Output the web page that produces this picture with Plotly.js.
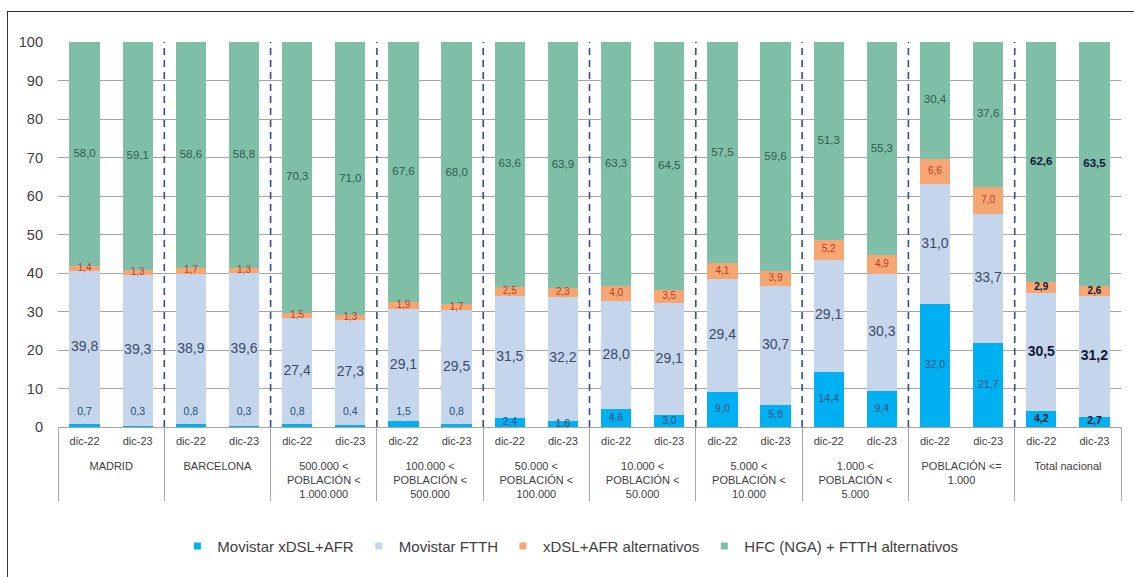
<!DOCTYPE html>
<html>
<head>
<meta charset="utf-8">
<script src="https://cdn.plot.ly/plotly-3.0.1.min.js"></script>
<style>
  html, body { margin: 0; padding: 0; background: #fff; }
  #wrap { position: relative; width: 1134px; height: 577px; overflow: hidden; }
  #chart { position: absolute; left: 0; top: 0; width: 1134px; height: 577px; }
  #frame { position: absolute; left: 7px; top: 11px; width: 1140px; height: 600px;
           border-left: 1.5px solid #333; border-top: 1.5px solid #333; pointer-events: none; }
</style>
</head>
<body>
<div id="wrap"><div id="chart"></div><div id="frame"></div></div>
<script>
// ---- data ----
const groups = [
  'MADRID',
  'BARCELONA',
  '500.000 &lt;<br>POBLACIÓN &lt;<br>1.000.000',
  '100.000 &lt;<br>POBLACIÓN &lt;<br>500.000',
  '50.000 &lt;<br>POBLACIÓN &lt;<br>100.000',
  '10.000 &lt;<br>POBLACIÓN &lt;<br>50.000',
  '5.000 &lt;<br>POBLACIÓN &lt;<br>10.000',
  '1.000 &lt;<br>POBLACIÓN &lt;<br>5.000',
  'POBLACIÓN &lt;=<br>1.000',
  'Total nacional'
];
const periods = ['dic-22', 'dic-23'];

const movistarXdsl = [0.7, 0.3, 0.8, 0.3, 0.8, 0.4, 1.5, 0.8, 2.4, 1.6, 4.6, 3.0, 9.0, 5.8, 14.4, 9.4, 32.0, 21.7, 4.2, 2.7];
const movistarFtth = [39.8, 39.3, 38.9, 39.6, 27.4, 27.3, 29.1, 29.5, 31.5, 32.2, 28.0, 29.1, 29.4, 30.7, 29.1, 30.3, 31.0, 33.7, 30.5, 31.2];
const xdslAlt      = [1.4, 1.3, 1.7, 1.3, 1.5, 1.3, 1.9, 1.7, 2.5, 2.3, 4.0, 3.5, 4.1, 3.9, 5.2, 4.9, 6.6, 7.0, 2.9, 2.6];
const hfcFtthAlt   = [58.0, 59.1, 58.6, 58.8, 70.3, 71.0, 67.6, 68.0, 63.6, 63.9, 63.3, 64.5, 57.5, 59.6, 51.3, 55.3, 30.4, 37.6, 62.6, 63.5];

const seriesNames = ['Movistar xDSL+AFR', 'Movistar FTTH', 'xDSL+AFR alternativos', 'HFC (NGA) + FTTH alternativos'];
const yTicks = [0, 10, 20, 30, 40, 50, 60, 70, 80, 90, 100];

// ---- build ----
const xOuter = [], xInner = [];
groups.forEach(g => periods.forEach(p => { xOuter.push('<br>' + g); xInner.push(p); }));
const X = [xOuter, xInner];

const colors = ['#00b0f0', '#c5d6ec', '#f5a673', '#7fbfa8'];
const textColors = ['#1f4e79', '#3b4a68', '#b5412a', '#2b5e4e'];
const textSizes = [10.5, 14, 10, 11.5];
const allSeries = [movistarXdsl, movistarFtth, xdslAlt, hfcFtthAlt];

const fmt = v => v.toFixed(1).replace('.', ',');
const isTotal = i => xOuter[i].indexOf('Total nacional') >= 0;

const traces = allSeries.map((vals, s) => ({
  type: 'bar', name: seriesNames[s], x: X, y: vals, showlegend: false,
  marker: { color: colors[s], line: { width: 0 } },
  hoverinfo: 'skip'
}));

// label positions (middle of each stacked segment)
allSeries.forEach((vals, s) => {
  const ys = vals.map((v, i) => {
    let base = 0;
    for (let k = 0; k < s; k++) base += allSeries[k][i];
    if (s === 0 && v <= 1.5) return 3.8;
    return base + v / 2;
  });
  traces.push({
    type: 'scatter', mode: 'text', x: X, y: ys, showlegend: false, hoverinfo: 'skip',
    text: vals.map((v, i) => isTotal(i) ? '<b>' + fmt(v) + '</b>' : fmt(v)),
    textposition: 'middle center',
    textfont: {
      family: 'Liberation Sans, Arial, sans-serif',
      size: textSizes[s],
      color: vals.map((v, i) => isTotal(i) ? '#0d1a33' : textColors[s])
    }
  });
});

// legend entries with small square markers
seriesNames.forEach((n, s) => {
  traces.push({
    type: 'scatter', mode: 'markers', name: n, x: [null], y: [null],
    marker: { symbol: 'square', size: 7, color: colors[s] },
    showlegend: true, hoverinfo: 'skip'
  });
});

const nBars = xOuter.length;
const shapes = [];
for (let g = 1; g < groups.length; g++) {
  const xf = (g * periods.length) / nBars;
  shapes.push({ type: 'line', xref: 'paper', yref: 'y', x0: xf, x1: xf, y0: 0, y1: 100,
    line: { color: '#2f4f8f', width: 1.6, dash: '7px,5px' } });
}

const layout = {
  width: 1134, height: 577,
  margin: { l: 58, r: 13, t: 42, b: 150 },
  paper_bgcolor: '#ffffff', plot_bgcolor: '#ffffff',
  barmode: 'stack', bargap: 0.43,
  font: { family: 'Liberation Sans, Arial, sans-serif', color: '#404040', size: 10 },
  showlegend: true,
  legend: { orientation: 'h', x: 0.482, xanchor: 'center', y: -0.31, yanchor: 'middle',
            font: { size: 15, color: '#404040' }, traceorder: 'normal',
            itemwidth: 30 },
  xaxis: {
    type: 'multicategory', range: [-0.5, nBars - 0.5],
    showline: true, linecolor: '#a6a6a6', linewidth: 1,
    showdividers: true, dividercolor: '#a6a6a6', dividerwidth: 1,
    tickfont: { size: 11, color: '#404040' },
    ticklabelstandoff: 4,
    showgrid: false, zeroline: false
  },
  yaxis: {
    range: [0, 100], tickvals: yTicks, ticktext: yTicks.map(String),
    showgrid: true, gridcolor: '#a6a6a6', gridwidth: 1,
    zeroline: false, showline: false, ticks: '',
    ticklabelstandoff: 14,
    tickfont: { size: 14.5, color: '#404040' }
  },
  shapes: shapes
};

Plotly.newPlot('chart', traces, layout, { displayModeBar: false, staticPlot: true });
</script>
</body>
</html>
